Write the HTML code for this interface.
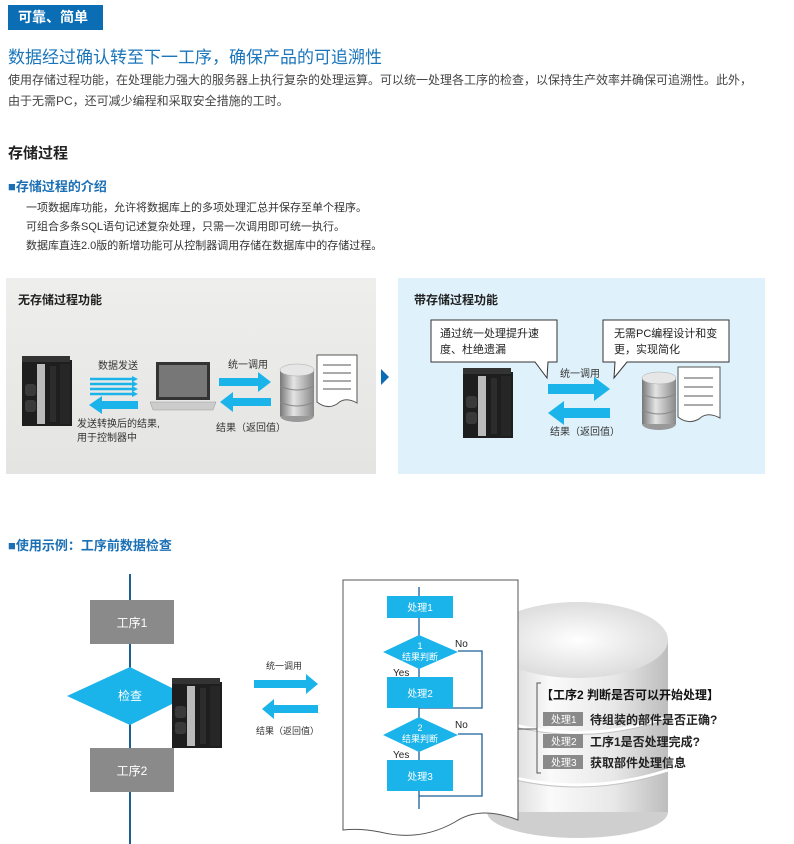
<!DOCTYPE html>
<html><head><meta charset="utf-8">
<style>
body{margin:0;width:794px;height:844px;background:#fff;position:relative;overflow:hidden;font-family:"Liberation Sans","Noto Sans CJK SC",sans-serif;color:#333}
.a{position:absolute;white-space:nowrap}
</style></head><body>
<div class="a" style="left:8px;top:5px;width:95px;height:25px;background:#0b6db3;color:#fff;font-weight:bold;font-size:14px;line-height:25px;text-indent:10px">可靠、简单</div>
<div class="a" style="left:8px;top:43px;font-size:17px;color:#1a75bb">数据经过确认转至下一工序，确保产品的可追溯性</div>
<div class="a" style="left:8px;top:70px;font-size:12px;line-height:21px;color:#444">使用存储过程功能，在处理能力强大的服务器上执行复杂的处理运算。可以统一处理各工序的检查，以保持生产效率并确保可追溯性。此外，<br>由于无需PC，还可减少编程和采取安全措施的工时。</div>
<div class="a" style="left:8px;top:142px;font-size:15px;font-weight:bold;color:#222">存储过程</div>
<div class="a" style="left:8px;top:176px;font-size:13px;font-weight:bold;color:#1a6fb5">■存储过程的介绍</div>
<div class="a" style="left:26px;top:199px;font-size:11px;line-height:19px;color:#333">一项数据库功能，允许将数据库上的多项处理汇总并保存至单个程序。<br>可组合多条SQL语句记述复杂处理，只需一次调用即可统一执行。<br>数据库直连2.0版的新增功能可从控制器调用存储在数据库中的存储过程。</div>

<svg class="a" style="left:0;top:0" width="794" height="844" font-family="Liberation Sans,Noto Sans CJK SC,sans-serif">
<defs>
<linearGradient id="cyl" x1="0" x2="1"><stop offset="0" stop-color="#c8c8c8"/><stop offset=".35" stop-color="#fafafa"/><stop offset=".7" stop-color="#e8e8e8"/><stop offset="1" stop-color="#bdbdbd"/></linearGradient>
<radialGradient id="top" cx=".5" cy=".5" r=".6"><stop offset="0" stop-color="#fff"/><stop offset="1" stop-color="#d6d6d6"/></radialGradient>
<linearGradient id="dbs" x1="0" x2="1"><stop offset="0" stop-color="#777"/><stop offset=".4" stop-color="#e4e4e4"/><stop offset="1" stop-color="#888"/></linearGradient>
<linearGradient id="lg" x1="0" y1="0" x2="0" y2="1"><stop offset="0" stop-color="#eeeeed"/><stop offset="1" stop-color="#e4e4e2"/></linearGradient>
<g id="ctrl">
<rect x="0" y="4" width="50" height="66" fill="#1e1e1e"/>
<rect x="0" y="0" width="48" height="6" fill="#333"/>
<rect x="15" y="8" width="8" height="60" fill="#bbb"/>
<rect x="3" y="28" width="11" height="12" rx="3" fill="#3a3a3a"/>
<rect x="3" y="44" width="11" height="12" rx="3" fill="#3a3a3a"/>
<rect x="28" y="10" width="6" height="56" fill="#2c2c2c"/>
<rect x="38" y="8" width="10" height="60" fill="#262626"/>
</g>
<g id="db">
<rect x="0" y="8" width="34" height="46" fill="url(#dbs)"/>
<ellipse cx="17" cy="54" rx="17" ry="6" fill="#999"/>
<rect x="0" y="8" width="34" height="46" fill="url(#dbs)"/>
<ellipse cx="17" cy="8" rx="17" ry="6" fill="#e6e6e6" stroke="#aaa" stroke-width=".5"/>
<path d="M0 24 Q17 32 34 24 M0 40 Q17 48 34 40" stroke="#888" fill="none"/>
</g>
</defs>

<!-- left panel -->
<rect x="6" y="278" width="370" height="196" fill="url(#lg)"/>
<text x="18" y="304" font-size="12" font-weight="bold" fill="#222">无存储过程功能</text>
<use href="#ctrl" x="22" y="356"/>
<text x="98" y="369" font-size="10" fill="#333">数据发送</text>
<g stroke="#1bb4ea" stroke-width="2.5"><line x1="90" y1="379" x2="132" y2="379"/><line x1="90" y1="384" x2="132" y2="384"/><line x1="90" y1="389" x2="132" y2="389"/><line x1="90" y1="394" x2="132" y2="394"/></g>
<g fill="#1bb4ea"><path d="M132 376 L138 379 L132 382Z M132 381 L138 384 L132 387Z M132 386 L138 389 L132 392Z M132 391 L138 394 L132 397Z"/>
<path d="M138 401 H102 V396 L89 405 L102 414 V409 H138Z"/>
<path d="M219 378 H258 V372 L271 382 L258 392 V386 H219Z"/>
<path d="M271 398 H233 V392 L220 402 L233 412 V406 H271Z"/></g>
<text x="77" y="427" font-size="10" fill="#333">发送转换后的结果,</text>
<text x="77" y="441" font-size="10" fill="#333">用于控制器中</text>
<!-- laptop -->
<path d="M156 362 H210 V400 H156Z" fill="#333"/><rect x="159" y="365" width="48" height="32" fill="#777"/>
<path d="M150 402 H216 L213 410 H153Z" fill="#ccc" stroke="#999" stroke-width=".5"/>
<text x="228" y="368" font-size="10" fill="#333">统一调用</text>
<text x="216" y="431" font-size="10" fill="#333">结果（返回值）</text>
<use href="#db" x="280" y="362"/>
<path d="M317 355 H357 V403 Q345 396 337 404 Q327 410 317 402Z" fill="#fff" stroke="#555"/>
<g stroke="#555"><line x1="323" y1="365" x2="351" y2="365"/><line x1="323" y1="373" x2="351" y2="373"/><line x1="323" y1="381" x2="351" y2="381"/><line x1="323" y1="389" x2="351" y2="389"/></g>
<path d="M381 369 L389 377 L381 385Z" fill="#0b6db3"/>

<!-- right panel -->
<rect x="398" y="278" width="367" height="196" fill="#dff2fb"/>
<text x="414" y="304" font-size="12" font-weight="bold" fill="#222">带存储过程功能</text>
<path d="M431 320 H557 V362 H548 L547 378 L535 362 H431Z" fill="#fff" stroke="#333"/>
<text x="440" y="337" font-size="11" fill="#222">通过统一处理提升速</text><text x="440" y="353" font-size="11" fill="#222">度、杜绝遗漏</text>
<path d="M603 320 H729 V362 H627 L614 378 L615 362 H603Z" fill="#fff" stroke="#333"/>
<text x="614" y="337" font-size="11" fill="#222">无需PC编程设计和变</text><text x="614" y="353" font-size="11" fill="#222">更，实现简化</text>
<use href="#ctrl" x="463" y="368"/>
<text x="560" y="377" font-size="10" fill="#333">统一调用</text>
<g fill="#1bb4ea"><path d="M548 384 H594 V377 L610 389 L594 401 V394 H548Z"/><path d="M610 408 H564 V401 L548 413 L564 425 V418 H610Z"/></g>
<text x="550" y="435" font-size="10" fill="#333">结果（返回值）</text>
<use href="#db" x="642" y="370"/>
<path d="M678 367 H720 V418 Q707 411 699 419 Q688 425 678 417Z" fill="#fff" stroke="#555"/>
<g stroke="#555"><line x1="684" y1="378" x2="713" y2="378"/><line x1="684" y1="387" x2="713" y2="387"/><line x1="684" y1="396" x2="713" y2="396"/><line x1="684" y1="405" x2="713" y2="405"/></g>

<!-- bottom -->
<text x="8" y="550" font-size="13" font-weight="bold" fill="#1a6fb5">■使用示例：工序前数据检查</text>
<line x1="130" y1="574" x2="130" y2="844" stroke="#1a5f96" stroke-width="2"/>
<rect x="90" y="600" width="84" height="44" fill="#8a8a8a"/><text x="132" y="627" font-size="12" fill="#fff" text-anchor="middle">工序1</text>
<path d="M130 667 L188 696 L130 725 L67 696Z" fill="#1bb4ea"/><text x="130" y="700" font-size="12" fill="#fff" text-anchor="middle">检查</text>
<rect x="90" y="748" width="84" height="44" fill="#8a8a8a"/><text x="132" y="775" font-size="12" fill="#fff" text-anchor="middle">工序2</text>
<use href="#ctrl" x="172" y="678" transform="translate(0,0)"/>
<text x="266" y="669" font-size="9" fill="#333">统一调用</text>
<g fill="#1bb4ea"><path d="M254 680 H306 V674 L318 684 L306 694 V688 H254Z"/><path d="M318 705 H274 V699 L262 709 L274 719 V713 H318Z"/></g>
<text x="256" y="734" font-size="9" fill="#333">结果（返回值）</text>

<!-- big cylinder -->
<rect x="487" y="640" width="181" height="172" fill="url(#cyl)"/>
<ellipse cx="577.5" cy="812" rx="90.5" ry="26" fill="#cfcfcf"/>
<rect x="487" y="640" width="181" height="172" fill="url(#cyl)"/>
<path d="M487 717 Q577 748 668 717 M487 770 Q577 800 668 770" stroke="#fff" stroke-width="3" fill="none"/>
<path d="M487 719 Q577 750 668 719 M487 772 Q577 802 668 772" stroke="#c4c4c4" stroke-width="1" fill="none"/>
<ellipse cx="577.5" cy="640" rx="90.5" ry="38" fill="url(#top)"/>

<!-- document -->
<path d="M343 580 H518 V820 Q480 805 455 822 Q420 842 380 832 Q360 828 343 830Z" fill="#fff" stroke="#555"/>
<g stroke="#1a5f96" stroke-width="1.3" fill="none">
<line x1="419" y1="587" x2="419" y2="809"/>
<path d="M458 651 H482 V708 H419"/>
<path d="M458 734 H482 V796 H419"/>
</g>
<rect x="387" y="596" width="66" height="22" fill="#1bb4ea"/><text x="420" y="611" font-size="10" fill="#fff" text-anchor="middle">处理1</text>
<path d="M419 635 L458 652 L419 669 L383 652Z" fill="#1bb4ea"/><text x="420" y="649" font-size="9" fill="#fff" text-anchor="middle">1</text><text x="420" y="660" font-size="9" fill="#fff" text-anchor="middle">结果判断</text>
<text x="455" y="647" font-size="10" fill="#222">No</text><text x="393" y="676" font-size="10" fill="#222">Yes</text>
<rect x="387" y="677" width="66" height="31" fill="#1bb4ea"/><text x="420" y="697" font-size="10" fill="#fff" text-anchor="middle">处理2</text>
<path d="M419 717 L458 735 L419 752 L383 735Z" fill="#1bb4ea"/><text x="420" y="731" font-size="9" fill="#fff" text-anchor="middle">2</text><text x="420" y="742" font-size="9" fill="#fff" text-anchor="middle">结果判断</text>
<text x="455" y="728" font-size="10" fill="#222">No</text><text x="393" y="758" font-size="10" fill="#222">Yes</text>
<rect x="387" y="760" width="66" height="31" fill="#1bb4ea"/><text x="420" y="780" font-size="10" fill="#fff" text-anchor="middle">处理3</text>

<path d="M541 683 H537 V773 H541 M518 729 H537" stroke="#555" fill="none"/>
<text x="541" y="699" font-size="12" font-weight="bold" fill="#111">【工序2 判断是否可以开始处理】</text>
<g font-size="10" fill="#fff"><rect x="543" y="712" width="40" height="14" fill="#8a8a8a"/><text x="551" y="723">处理1</text>
<rect x="543" y="734" width="40" height="14" fill="#8a8a8a"/><text x="551" y="745">处理2</text>
<rect x="543" y="755" width="40" height="14" fill="#8a8a8a"/><text x="551" y="766">处理3</text></g>
<g font-size="12" font-weight="bold" fill="#222"><text x="590" y="724">待组装的部件是否正确?</text><text x="590" y="746">工序1是否处理完成?</text><text x="590" y="767">获取部件处理信息</text></g>
</svg>
</body></html>
